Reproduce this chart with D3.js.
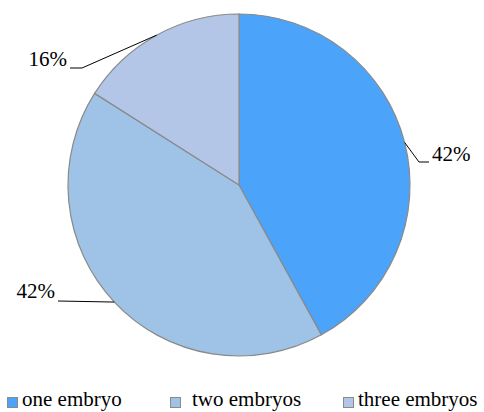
<!DOCTYPE html>
<html>
<head>
<meta charset="utf-8">
<script src="https://cdn.jsdelivr.net/npm/d3@7"></script>
<style>
  html, body { margin: 0; padding: 0; background: #fff; }
  #wrap { position: relative; width: 484px; height: 412px; }
  #wrap svg { position: absolute; left: 0; top: 0; }
  .lbl {
    position: absolute;
    font-family: "Liberation Serif", "Times New Roman", Tinos, monospace;
    font-size: 21px;
    line-height: 21px;
    color: #000;
    white-space: nowrap;
  }
  .lbl.end { transform: translateX(-100%); }
</style>
</head>
<body>
<div id="wrap"><svg id="pie" width="484" height="412"></svg></div>
<script>
// Share of cases by number of embryos
const categories = ["one embryo", "two embryos", "three embryos"];
const values = [42, 42, 16];
const colors = ["#4ba3fa", "#9ec3e7", "#b4c6e8"];

const width = 484, height = 412;
const cx = 239, cy = 185, radius = 171;
const baselineShift = 17.6; // top-of-box to baseline for 21px text on a 21px line

const svg = d3.select("#pie");
const wrap = d3.select("#wrap");
const g = svg.append("g").attr("transform", `translate(${cx},${cy})`);

const pie = d3.pie().sort(null).value(d => d.value);
const arc = d3.arc().innerRadius(0).outerRadius(radius);
const color = d3.scaleOrdinal().domain(categories).range(colors);

const data = categories.map((c, i) => ({ name: c, value: values[i] }));
const arcs = pie(data);

g.selectAll("path.slice")
  .data(arcs)
  .join("path")
  .attr("class", "slice")
  .attr("d", arc)
  .attr("fill", d => color(d.data.name))
  .attr("stroke", "#8a8a8a")
  .attr("stroke-width", 1.2);

// Leader lines run from the outer edge at the slice's mid-angle to an elbow,
// then a short horizontal run to the label.
const leaderLayout = [
  { elbow: [180, -23], end: [190, -23], text: [193, -23], anchor: "start" },
  { elbow: [-181, 116], end: [-181, 116], text: [-184, 114], anchor: "end" },
  { elbow: [-157, -117], end: [-169, -117], text: [-172, -118], anchor: "end" }
];

g.selectAll("polyline.leader")
  .data(arcs)
  .join("polyline")
  .attr("class", "leader")
  .attr("points", (d, i) => {
    const mid = (d.startAngle + d.endAngle) / 2;
    const L = leaderLayout[i];
    const edge = [radius * Math.sin(mid), -radius * Math.cos(mid)];
    return [edge, L.elbow, L.end].map(p => p.join(",")).join(" ");
  })
  .attr("fill", "none")
  .attr("stroke", "#000")
  .attr("stroke-width", 1);

// Percentage labels
wrap.selectAll("div.pct")
  .data(arcs)
  .join("div")
  .attr("class", (d, i) => "lbl pct" + (leaderLayout[i].anchor === "end" ? " end" : ""))
  .style("left", (d, i) => (cx + leaderLayout[i].text[0]) + "px")
  .style("top", (d, i) => (cy + leaderLayout[i].text[1] - baselineShift) + "px")
  .text(d => d.data.value + "%");

// Legend along the bottom
const legendX = [7, 170, 343];
const legendY = 407;
const legend = svg.append("g");
legend.selectAll("rect")
  .data(categories)
  .join("rect")
  .attr("x", (d, i) => legendX[i] + 0.5)
  .attr("y", legendY - 10 + 0.5)
  .attr("width", 10)
  .attr("height", 10)
  .attr("fill", d => color(d))
  .attr("stroke", "#8a8a8a")
  .attr("stroke-width", 1);
wrap.selectAll("div.leg")
  .data(categories)
  .join("div")
  .attr("class", "lbl leg")
  .style("left", (d, i) => (legendX[i] + (i === 1 ? 22 : 15)) + "px")
  .style("top", (legendY - baselineShift) + "px")
  .text(d => d);
</script>
</body>
</html>
